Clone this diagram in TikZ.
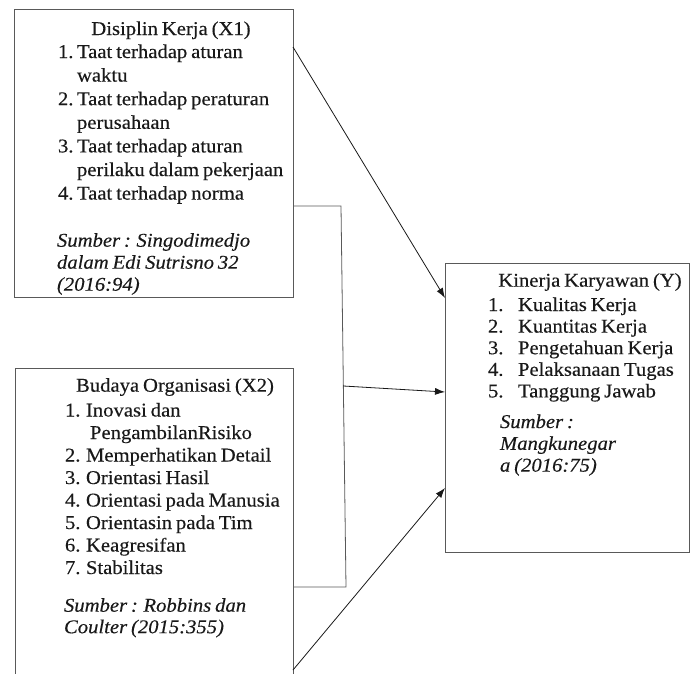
\documentclass[tikz,border=0pt]{standalone}
\usepackage{fontspec}
\setmainfont{Liberation Serif}[FakeStretch=1.06,WordSpace=0.75,FakeBold=0.3]
\usetikzlibrary{arrows.meta,calc}
\newcommand{\nm}[2]{\makebox[#1][l]{#2}}
\begin{document}
\begin{tikzpicture}[x=1pt,y=-1pt,
  boxst/.style={draw=black!65,line width=0.8pt,inner sep=0pt,outer sep=0pt,rectangle},
  txt/.style={inner sep=0pt,outer sep=0pt,text=black!90,font=\fontsize{19.5}{23.6}\selectfont},
  linkst/.style={draw=black!65,line width=0.8pt},
  arr/.style={draw=black!90,line width=0.8pt,-{Latex[length=10pt,width=7pt]}}]
\clip (0,0) rectangle (691,673);
% boxes
\node[boxst,minimum width=279pt,minimum height=288pt] (box1) at (153.5,153) {};
\node[boxst,minimum width=278pt,minimum height=332pt] (box2) at (154,534) {};
\node[boxst,minimum width=244.5pt,minimum height=289pt] (box3) at (567.25,407.5) {};
% box 1 text
\node[txt,anchor=base] (t1) at (171,35) {Disiplin Kerja (X1)};
\node[txt,anchor=base west] (l1) at (58,58) {\begin{tabular}[t]{@{}l@{}}
\nm{19pt}{1.}Taat terhadap aturan\\
\nm{19pt}{}waktu\\
\nm{19pt}{2.}Taat terhadap peraturan\\
\nm{19pt}{}perusahaan\\
\nm{19pt}{3.}Taat terhadap aturan\\
\nm{19pt}{}perilaku dalam pekerjaan\\
\nm{19pt}{4.}Taat terhadap norma
\end{tabular}};
\node[txt,anchor=base west,font=\fontsize{19.5}{22}\selectfont\itshape] (s1) at (57,246.7) {\begin{tabular}[t]{@{}l@{}}
Sumber : Singodimedjo\\
dalam Edi Sutrisno 32\\
(2016:94)
\end{tabular}};
% box 2 text
\node[txt,anchor=base] (t2) at (175,391.7) {Budaya Organisasi (X2)};
\node[txt,anchor=base west,font=\fontsize{19.5}{22.5}\selectfont] (l2) at (65,416.5) {\begin{tabular}[t]{@{}l@{}}
\nm{21pt}{1.}Inovasi dan\\
\nm{25pt}{}PengambilanRisiko\\
\nm{21pt}{2.}Memperhatikan Detail\\
\nm{21pt}{3.}Orientasi Hasil\\
\nm{21pt}{4.}Orientasi pada Manusia\\
\nm{21pt}{5.}Orientasin pada Tim\\
\nm{21pt}{6.}Keagresifan\\
\nm{21pt}{7.}Stabilitas
\end{tabular}};
\node[txt,anchor=base west,font=\fontsize{19.5}{21.5}\selectfont\itshape] (s2) at (64,611.7) {\begin{tabular}[t]{@{}l@{}}
Sumber : Robbins dan\\
Coulter (2015:355)
\end{tabular}};
% box 3 text
\node[txt,anchor=base] (t3) at (590,286.7) {Kinerja Karyawan (Y)};
\node[txt,anchor=base west,font=\fontsize{19.5}{21.6}\selectfont] (l3) at (488,311) {\begin{tabular}[t]{@{}l@{}}
\nm{30pt}{1.}Kualitas Kerja\\
\nm{30pt}{2.}Kuantitas Kerja\\
\nm{30pt}{3.}Pengetahuan Kerja\\
\nm{30pt}{4.}Pelaksanaan Tugas\\
\nm{30pt}{5.}Tanggung Jawab
\end{tabular}};
\node[txt,anchor=base west,font=\fontsize{19.5}{21.8}\selectfont\itshape] (s3) at (500,428) {\begin{tabular}[t]{@{}l@{}}
Sumber :\\
Mangkunegar\\
a (2016:75)
\end{tabular}};
% connectors
\coordinate (bt) at (341,206);
\coordinate (bb) at (346,587);
\coordinate (bm) at (343.4,386);
\draw[arr] ($(box1.north east)+(0,38)$) -- ($(box3.north west)+(0,35)$);
\draw[linkst] ($(box1.north east)+(0,197)$) -- (bt) -- (bb) -- ($(box2.north east)+(0,219)$);
\draw[arr] (bm) -- ($(box3.north west)+(0,129)$);
\draw[arr] ($(box2.north east)+(0,302)$) -- ($(box3.north west)+(0,225)$);
\end{tikzpicture}
\end{document}
